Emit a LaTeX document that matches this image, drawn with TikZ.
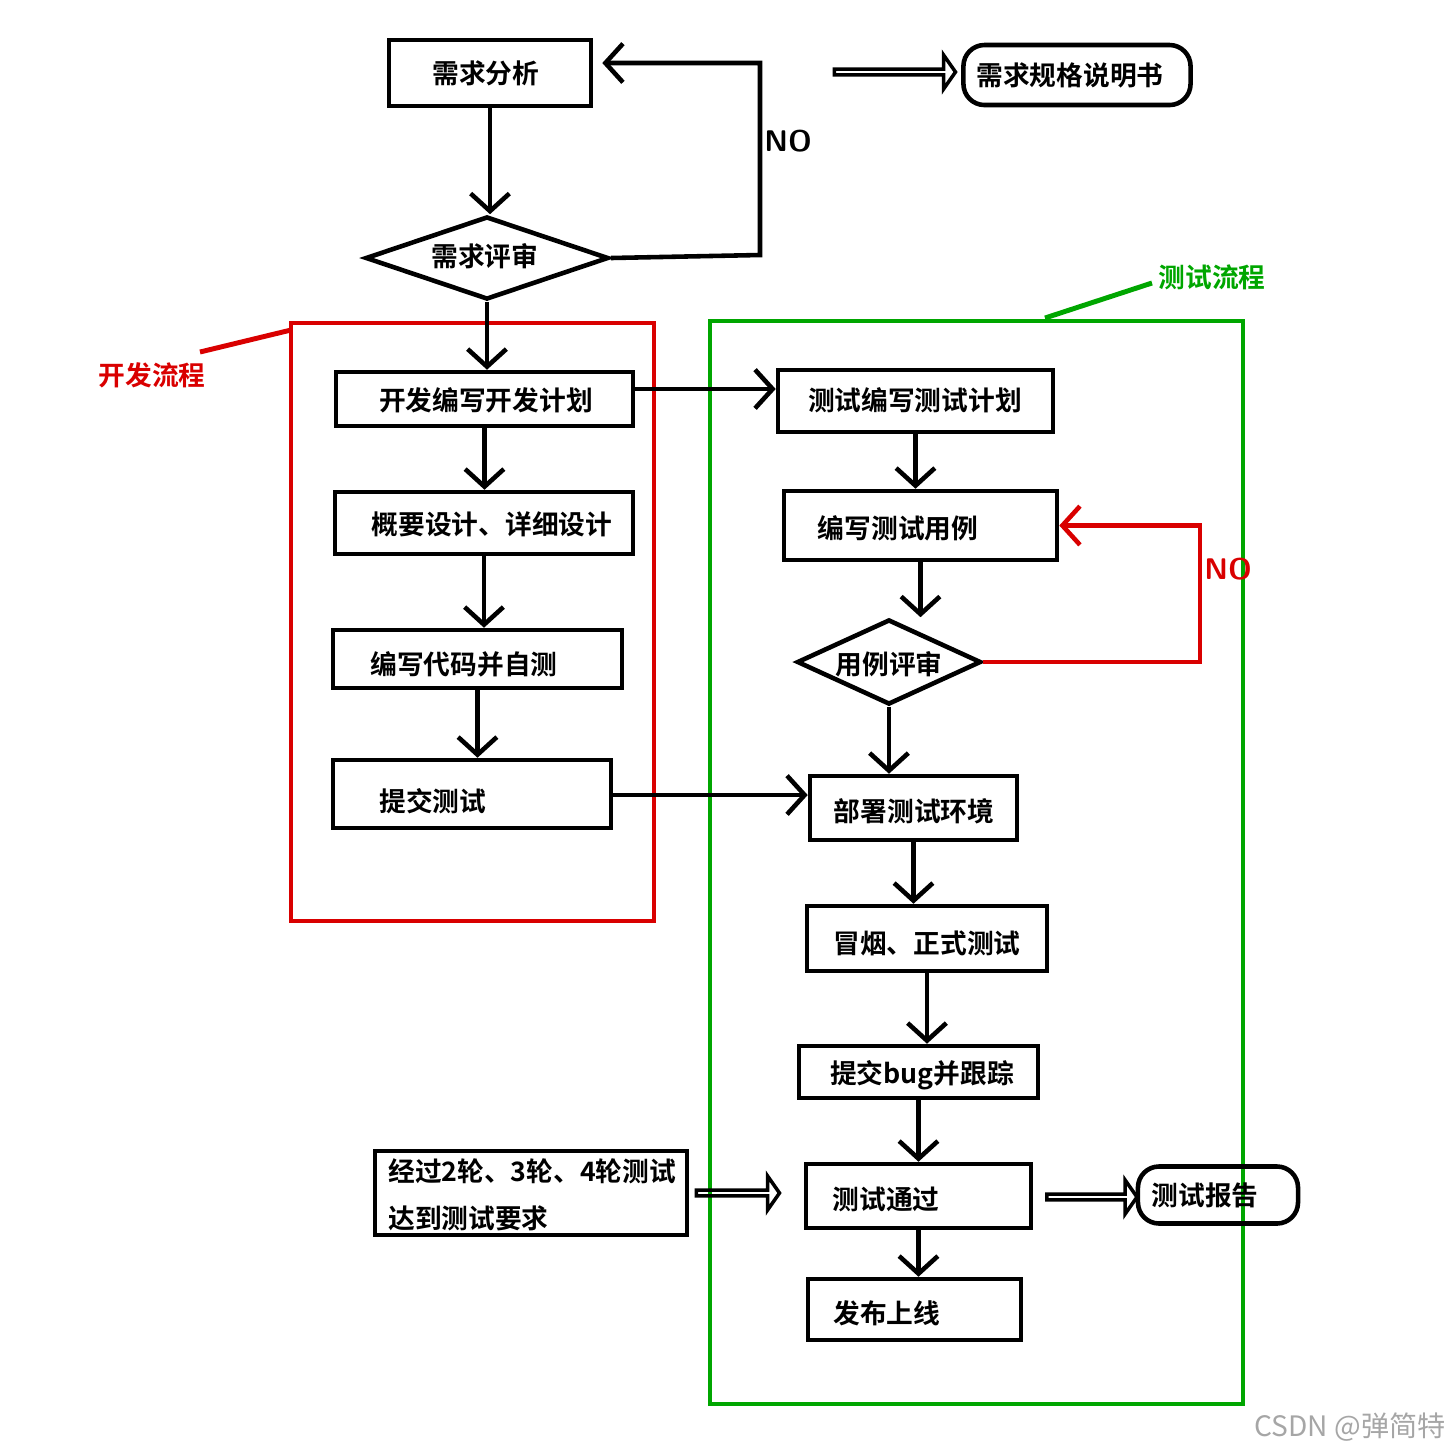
\documentclass[tikz,border=0pt]{standalone}
\usepackage{fontspec}
\newfontfamily\cjk{Noto Sans CJK SC Bold}
\newfontfamily\cjkl{Noto Sans CJK SC}
\usetikzlibrary{arrows.meta,shapes.geometric,shapes.arrows}
\begin{document}
\begin{tikzpicture}[x=0.01cm, y=-0.01cm, line width=1.3pt]
	\tikzstyle{box}    = [draw=black, rectangle, inner sep=0pt]
	\tikzstyle{rbox}   = [draw=black, rectangle, rounded corners=6pt, inner sep=0pt]
	\tikzstyle{dia}    = [draw=black, diamond, inner sep=0pt]
	\tikzstyle{txt}    = [font=\cjk\fontsize{7.6}{11}\selectfont, inner sep=0pt]
	\tikzstyle{arr}    = [-{Straight Barb[length=5pt, width=11pt, line width=1.3pt]}]
	\tikzstyle{hollow} = [draw=black, single arrow, line width=1pt, inner sep=0pt, minimum width=0.34cm, single arrow head extend=0.09cm, single arrow tip angle=110]

	\useasboundingbox (0,0) rectangle (1446,1453);

	% frames
	\draw[red!85!black, line width=1.4pt] (291,323) rectangle (654,921);
	\draw[green!65!black, line width=1.4pt] (710,321) rectangle (1243,1404);
	\node[txt, text=red!85!black] (devlbl) at (152,375) {开发流程};
	\draw[red!85!black, line width=1.4pt] (200,352) -- (291,330);
	\node[txt, text=green!65!black] (testlbl) at (1212,277) {测试流程};
	\draw[green!65!black, line width=1.4pt] (1152,283) -- (1045,318);

	% boxes: name/x1/y1/x2/y2/text x/text y/text
	\foreach \name/\xa/\ya/\xb/\yb/\tx/\ty/\txt in {
		rqa/389/40/591/106/486/73/需求分析,
		plan/336/372/633/426/486/400/开发编写开发计划,
		design/335/492/633/554/492/524/概要设计、详细设计,
		code/333/630/622/688/464/664/编写代码并自测,
		submit/333/760/611/828/433/801/提交测试,
		tplan/778/370/1053/432/915/400/测试编写测试计划,
		tcase/784/491/1057/560/898/528/编写测试用例,
		deploy/810/776/1017/840/914/811/部署测试环境,
		smoke/807/906/1047/971/927/943/冒烟、正式测试,
		bug/799/1046/1038/1098/922/1075/提交bug并跟踪,
		pass/806/1164/1031/1228/886/1199/测试通过,
		release/808/1279/1021/1340/887/1313/发布上线}
	{
		\node[box, minimum width={(\xb-\xa)*0.01cm}, minimum height={(\yb-\ya)*0.01cm}] (\name) at ({(\xa+\xb)/2},{(\ya+\yb)/2}) {};
		\node[txt] (\name-t) at (\tx,\ty) {\txt};
	}

	\node[rbox, minimum width=2.27cm, minimum height=0.6cm] (spec) at (1077,75) {};
	\node[txt] (spec-t) at (1070,75) {需求规格说明书};
	\node[rbox, minimum width=1.6cm, minimum height=0.57cm] (report) at (1218,1195) {};
	\node[txt] (report-t) at (1205,1195) {测试报告};
	\node[box, minimum width=3.12cm, minimum height=0.84cm] (rounds) at (531,1193) {};
	\node[txt, align=left, anchor=west, font=\cjk\fontsize{7.6}{13.5}\selectfont] (rounds-t) at (386,1195) {经过2轮、3轮、4轮测试\\达到测试要求};

	% diamonds
	\node[dia, minimum width=2.43cm, minimum height=0.83cm] (rqr) at (487,258) {};
	\node[txt] (rqr-t) at (485,256) {需求评审};
	\node[dia, minimum width=1.84cm, minimum height=0.85cm] (tcr) at (889,662) {};
	\node[txt] (tcr-t) at (889,664) {用例评审};

	% hollow arrows
	\node[hollow, minimum height=1.21cm] (h1) at (894,72) {};
	\node[hollow, minimum height=0.83cm] (h2) at (737,1193) {};
	\node[hollow, minimum height=0.9cm] (h3) at (1091,1197) {};

	% flow
	\foreach \from/\to in {rqa/rqr, rqr/plan, plan/design, design/code, code/submit, tplan/tcase, tcase/tcr, tcr/deploy, deploy/smoke, smoke/bug, bug/pass, pass/release}
		\draw[arr] (\from) -- (\from |- \to.north);
	\draw[arr] ([yshift=0.1cm]plan.east) -- ([yshift=0.1cm]plan.east -| tplan.west);
	\draw[arr] ([yshift=-0.01cm]submit.east) -- ([yshift=-0.01cm]submit.east -| deploy.west);

	% review loops
	\coordinate (nob) at (760,255);
	\draw[arr] (rqr.east) -- (nob) |- ([yshift=0.1cm, xshift=0.09cm]rqa.east);
	\node[txt, font=\bfseries\sffamily\fontsize{8.5}{10}\selectfont] (no1) at (788,141) {NO};
	\coordinate (nor) at (1200,662);
	\draw[arr, red!85!black] (tcr.east) -- (nor) |- (tcase.east);
	\node[txt, text=red!85!black, font=\bfseries\sffamily\fontsize{8.5}{10}\selectfont] (no2) at (1228,569) {NO};

	\node[txt, font=\cjkl\fontsize{8}{10}\selectfont, text=black!35] (mark) at (1350,1427) {CSDN @弹简特};
\end{tikzpicture}
\end{document}
